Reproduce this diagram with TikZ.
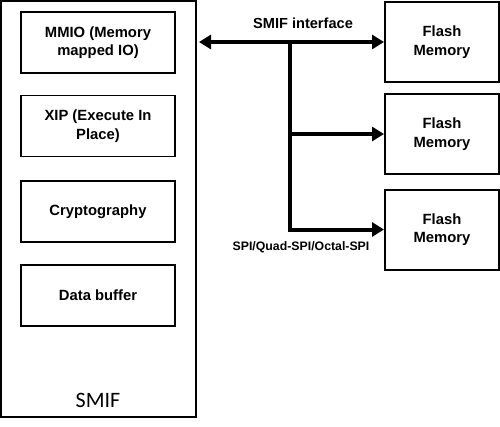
\documentclass[tikz,border=0pt]{standalone}
\usepackage{fontspec}
\setmainfont{Liberation Sans}
\newfontfamily\calib{Carlito}
\usetikzlibrary{arrows.meta}
\begin{document}
\begin{tikzpicture}[x=1pt,y=-1pt,
  inbox/.style={draw, line width=1.5pt, minimum width=154pt, minimum height=61pt, align=center,
    font=\fontsize{14.8}{18.5}\selectfont\bfseries, inner sep=0pt},
  flashbox/.style={draw, line width=2pt, minimum width=114pt, minimum height=80pt, align=center,
    font=\fontsize{14.8}{18.5}\selectfont\bfseries, inner sep=0pt},
  bus/.style={line width=4pt},
  bustip/.style={-{Triangle[length=12pt,width=14pt]}, line width=4pt}
]
\useasboundingbox (0,0) rectangle (500,426);
\fill[white] (0,0) rectangle (500,426);
\node[draw, line width=2pt, minimum width=195pt, minimum height=416pt, inner sep=0pt] (smif) at (98.5,209) {};
\node[anchor=base, font=\calib\fontsize{22}{26}\selectfont] (smiflabel) at (98,407) {SMIF};
\node[inbox] (mmio) at (98,42.5) {MMIO (Memory\\mapped IO)};
\node[inbox] (xip) at (98,126) {XIP (Execute In\\Place)};
\node[inbox] (crypto) at (98,211.5) {Cryptography};
\node[inbox] (buf) at (98,295.5) {Data buffer};
\node[flashbox] (f1) at (442,42) {Flash\\Memory};
\node[flashbox] (f2) at (442,134) {Flash\\Memory};
\node[flashbox] (f3) at (442,229.5) {Flash\\Memory};
\node[anchor=base, font=\fontsize{14.6}{17.5}\selectfont\bfseries] (iflabel) at (303,28) {SMIF interface};
\node[anchor=base, font=\fontsize{12.3}{14}\selectfont\bfseries] (spilabel) at (301,250) {SPI/Quad-SPI/Octal-SPI};
\coordinate (j) at (290,42);
\draw[bustip, {Triangle[length=12pt,width=14pt]}-{Triangle[length=12pt,width=14pt]}] ([xshift=2pt]smif.east |- j) -- (f1.west |- j);
\draw[bus] ([yshift=-2pt]j) -- (j |- f3.west);
\draw[bustip] ([xshift=-2pt]j |- f2.west) -- (f2.west);
\draw[bustip] ([xshift=-2pt]j |- f3.west) -- (f3.west);
\end{tikzpicture}
\end{document}
